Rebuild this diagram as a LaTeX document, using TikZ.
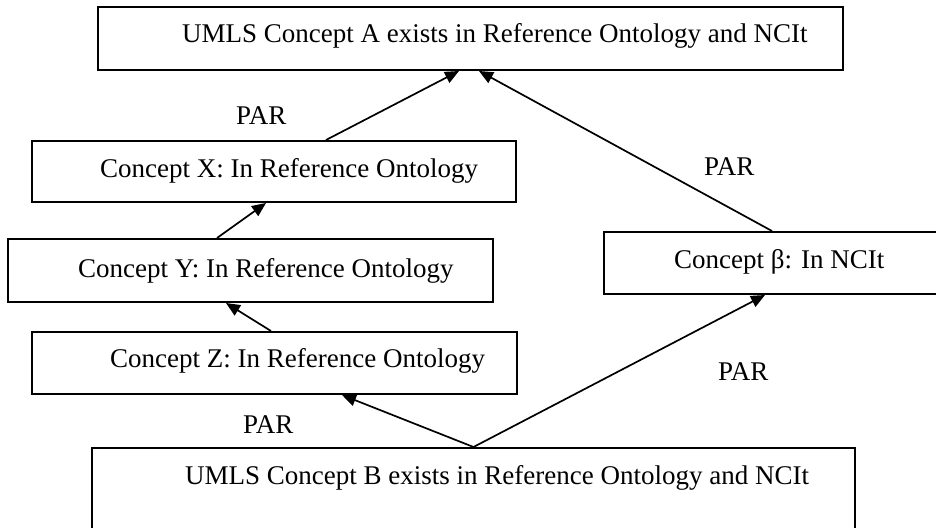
\documentclass[tikz,border=0pt]{standalone}
\usepackage{fontspec}
\setmainfont{Liberation Serif}
\usetikzlibrary{arrows.meta, positioning}
\tikzset{
  conceptbox/.style={draw, line width=2pt, rectangle, inner sep=0pt},
  conceptlabel/.style={anchor=base west, inner sep=0pt},
  pararrow/.style={-{Triangle[length=14pt, width=12pt]}, line width=1.7pt},
}

\begin{document}
\begin{tikzpicture}[x=1pt, y=-1pt, font=\fontsize{27}{32}\selectfont]
  \useasboundingbox (0,0) rectangle (936,527);
  \clip (0,0) rectangle (936,527);

  \node[conceptbox, minimum width=745pt, minimum height=63pt] (conA) at (470.5,38.5) {};
  \node[conceptbox, minimum width=484pt, minimum height=61pt] (conX) at (274,171.5) {};
  \node[conceptbox, minimum width=485pt, minimum height=63pt] (conY) at (250.5,270.5) {};
  \node[conceptbox, minimum width=485pt, minimum height=62pt] (conZ) at (274.5,363) {};
  \node[conceptbox, minimum width=336pt, minimum height=62pt] (conBeta) at (772,263) {};
  \node[conceptbox, minimum width=763pt, minimum height=92pt] (conB) at (473.5,494) {};

  \node[conceptlabel] (txtA) at (182,43) {UMLS Concept A exists in Reference Ontology and NCIt};
  \node[conceptlabel] (txtX) at (100,177) {Concept X: In Reference Ontology};
  \node[conceptlabel] (txtY) at (78,277) {Concept Y: In Reference Ontology};
  \node[conceptlabel] (txtZ) at (110,367) {Concept Z: In Reference Ontology};
  \node[conceptlabel] (txtBeta) at (674,268) {Concept β: In NCIt};
  \node[conceptlabel] (txtB) at (185,484) {UMLS Concept B exists in Reference Ontology and NCIt};

  \node[conceptlabel] (parXA) at (236,124) {PAR};
  \node[conceptlabel] (parBetaA) at (704,175) {PAR};
  \node[conceptlabel] (parBZ) at (243,433) {PAR};
  \node[conceptlabel] (parBBeta) at (718,380) {PAR};

  % is-a links up to the parents
  \draw[pararrow] ([xshift=295pt]conX.north west) -- ([xshift=362pt]conA.south west);
  \draw[pararrow] ([xshift=169pt]conBeta.north west) -- ([xshift=382pt]conA.south west);
  \draw[pararrow] ([xshift=210pt]conY.north west) -- ([xshift=235pt]conX.south west);
  \draw[pararrow] ([xshift=240pt]conZ.north west) -- ([xshift=219pt]conY.south west);
  \draw[pararrow] (conB.north) -- ([xshift=311pt]conZ.south west);
  \draw[pararrow] (conB.north) -- ([xshift=162pt]conBeta.south west);
\end{tikzpicture}
\end{document}
